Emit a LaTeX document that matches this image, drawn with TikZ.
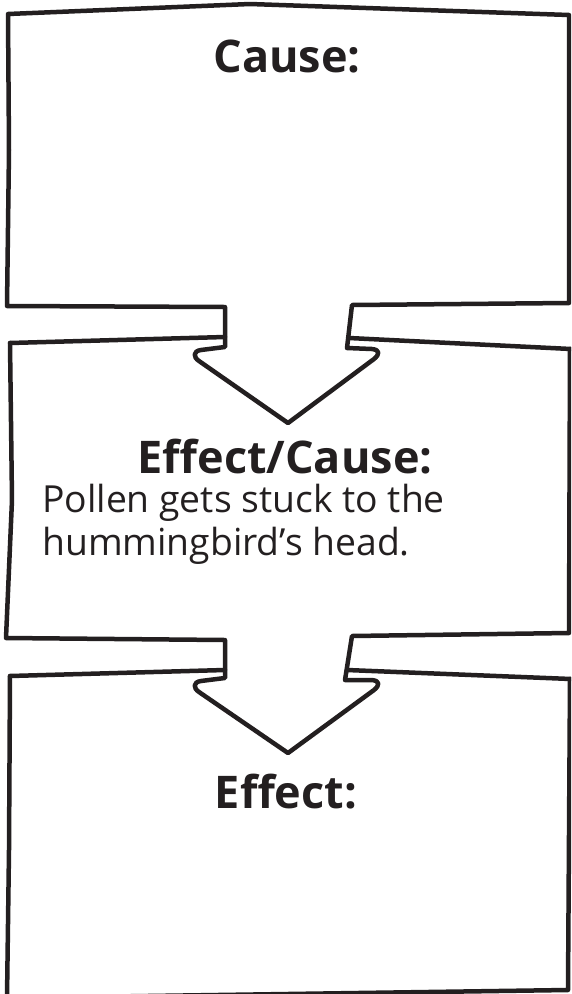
\documentclass[tikz,border=0pt]{standalone}
\usepackage{fontspec}
\setmainfont{Open Sans}
\definecolor{ink}{RGB}{35,31,32}
\begin{document}
\begin{tikzpicture}[x=1pt,y=-1pt,
  outline/.style={draw=ink,line width=4.5pt,line join=round,line cap=round},
  title/.style={inner sep=0pt,anchor=base,text=ink,font=\fontsize{45}{50}\selectfont\bfseries},
  body/.style={inner sep=0pt,anchor=base west,text=ink,font=\fontsize{37.3}{43}\selectfont}]
\useasboundingbox (0,0) rectangle (571,994);
\begin{scope}
\clip (0,0) rectangle (571,994);
% box 1 with first arrow
\draw[outline] (225,307) -- (7,306) -- (9,150) -- (8,14) -- (250,4) -- (569,15) -- (569,160) -- (569,303) -- (352,305)
  -- (347,348) -- (372,349) .. controls (380,350) and (380,354) .. (374,359) -- (288,423)
  -- (199,361) .. controls (193,357) and (193,351) .. (201,350) -- (225,347) -- cycle;
% box 2 top edges
\draw[outline] (10,343) -- (225,337);
\draw[outline] (349,338) -- (571,349);
% box 2 with second arrow
\draw[outline] (10,343) -- (12,500) -- (6,638) -- (225,640)
  -- (225,678) -- (201,681) .. controls (193,682) and (193,688) .. (199,692) -- (288,753)
  -- (374,690) .. controls (380,685) and (380,681) .. (372,680) -- (345,680) -- (352,636) -- (569,633) -- (570,349);
% box 3 top edges
\draw[outline] (10,676) -- (225,670);
\draw[outline] (347,670) -- (571,679);
% box 3
\draw[outline] (10,676) -- (9,850) -- (7,998) -- (568,990) -- (570,679);
\end{scope}
% texts
\node[title] (cause) at (287,72) {Cause:};
\node[title] (effcause) at (285,473) {Effect/Cause:};
\node[body] (line1) at (42,512) {Pollen gets stuck to the};
\node[body] (line2) at (42,555) {hummingbird’s head.};
\node[title] (effect) at (286,808) {Effect:};
\end{tikzpicture}
\end{document}
